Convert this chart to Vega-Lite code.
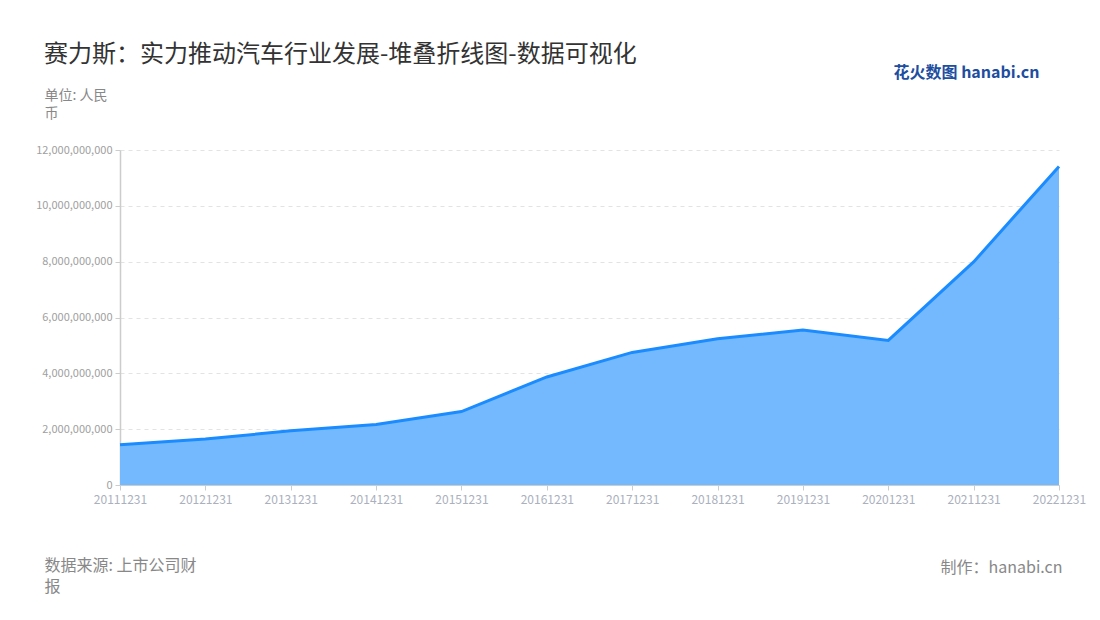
{
  "$schema": "https://vega.github.io/schema/vega-lite/v6.json",
  "width": 939,
  "height": 335,
  "autosize": {"type": "none"},
  "padding": {"left": 120, "top": 150, "right": 41, "bottom": 135},
  "background": "white",
  "title": {
    "text": "赛力斯：实力推动汽车行业发展-堆叠折线图-数据可视化",
    "anchor": "start",
    "frame": "group",
    "dx": -76,
    "offset": -22,
    "baseline": "alphabetic",
    "fontSize": 24,
    "fontWeight": "normal",
    "color": "#333333",
    "font": "Noto Sans CJK SC"
  },
  "config": {
    "view": {"stroke": null},
    "font": "Noto Sans CJK SC"
  },
  "data": {
    "values": [
      {"date": "20111231", "value": 1440000000},
      {"date": "20121231", "value": 1650000000},
      {"date": "20131231", "value": 1940000000},
      {"date": "20141231", "value": 2170000000},
      {"date": "20151231", "value": 2630000000},
      {"date": "20161231", "value": 3870000000},
      {"date": "20171231", "value": 4750000000},
      {"date": "20181231", "value": 5240000000},
      {"date": "20191231", "value": 5550000000},
      {"date": "20201231", "value": 5180000000},
      {"date": "20211231", "value": 7990000000},
      {"date": "20221231", "value": 11410000000}
    ]
  },
  "layer": [
    {
      "mark": {"type": "area", "color": "#74b9fe", "opacity": 1},
      "encoding": {
        "x": {
          "field": "date",
          "type": "ordinal",
          "scale": {"type": "point", "padding": 0},
          "axis": {
            "orient": "bottom",
            "labelAngle": 0,
            "labelFontSize": 12,
            "labelColor": "#aab0bd",
            "labelPadding": 4,
            "tickSize": 5,
            "tickColor": "#cccccc",
            "domainColor": "#cccccc",
            "grid": false,
            "title": ["数据来源: 上市公司财", "报"],
            "titleX": -76,
            "titleY": 72,
            "titleAlign": "left",
            "titleBaseline": "top",
            "titleAngle": 0,
            "titleFontSize": 16,
            "titleFontWeight": "normal",
            "titleColor": "#888888",
            "titleLineHeight": 21
          }
        },
        "y": {
          "field": "value",
          "type": "quantitative",
          "scale": {"domain": [0, 12000000000], "nice": false},
          "axis": {
            "orient": "left",
            "values": [0, 2000000000, 4000000000, 6000000000, 8000000000, 10000000000, 12000000000],
            "format": ",.0f",
            "labelFontSize": 11,
            "labelColor": "#a0a0a0",
            "labelPadding": 3,
            "tickSize": 5,
            "tickColor": "#cccccc",
            "domainColor": "#cccccc",
            "domainWidth": 1.5,
            "grid": true,
            "gridColor": "#e3e3e3",
            "gridDash": [4, 4],
            "title": ["单位: 人民", "币"],
            "titleX": -76,
            "titleY": -62,
            "titleAlign": "left",
            "titleBaseline": "top",
            "titleAngle": 0,
            "titleFontSize": 14,
            "titleFontWeight": "normal",
            "titleColor": "#888888",
            "titleLineHeight": 18
          }
        }
      }
    },
    {
      "mark": {"type": "line", "color": "#1a8cff", "strokeWidth": 3},
      "encoding": {
        "x": {
          "field": "date",
          "type": "ordinal",
          "scale": {"type": "point", "padding": 0},
          "axis": {
            "orient": "top",
            "labels": false,
            "ticks": false,
            "domain": false,
            "grid": false,
            "title": "花火数图 hanabi.cn",
            "titleX": 773,
            "titleY": -78,
            "titleAlign": "left",
            "titleBaseline": "middle",
            "titleAngle": 0,
            "titleFontSize": 16,
            "titleFontWeight": "bold",
            "titleColor": "#1d4ea0"
          }
        },
        "y": {
          "field": "value",
          "type": "quantitative",
          "scale": {"domain": [0, 12000000000], "nice": false},
          "axis": {
            "orient": "right",
            "labels": false,
            "ticks": false,
            "domain": false,
            "grid": false,
            "title": "制作：hanabi.cn",
            "titleX": 3,
            "titleY": 409,
            "titleAlign": "right",
            "titleBaseline": "top",
            "titleAngle": 0,
            "titleFontSize": 16,
            "titleFontWeight": "normal",
            "titleColor": "#888888"
          }
        }
      }
    }
  ],
  "resolve": {"axis": {"x": "independent", "y": "independent"}}
}
